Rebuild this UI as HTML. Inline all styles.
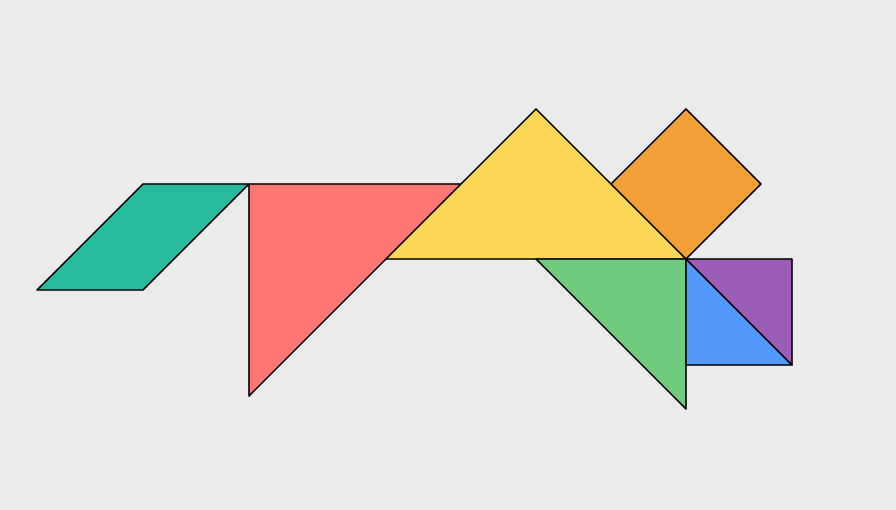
<!DOCTYPE html>
<html><head><meta charset="utf-8"><style>
html,body{margin:0;padding:0;background:#ebebeb;}
svg{display:block;}
</style></head><body>
<svg width="896" height="510" viewBox="0 0 896 510">
<rect width="896" height="510" fill="#ebebeb"/>
<g stroke="#000" stroke-width="1.6" stroke-linejoin="round">
<polygon points="37,290 143,184 249,184 143,290" fill="#26bb9f"/>
<polygon points="249,184 461,184 249,396" fill="#ff7672"/>
<polygon points="386,259 536,109 686,259" fill="#fed757"/>
<polygon points="611,184 686,109 761,184 686,259" fill="#f2a037"/>
<polygon points="536,259 686,259 686,409" fill="#6fcb7e"/>
<polygon points="686,259 792,365 686,365" fill="#5399fb"/>
<polygon points="686,259 792,259 792,365" fill="#9b5db5"/>
</g>
</svg>
</body></html>
